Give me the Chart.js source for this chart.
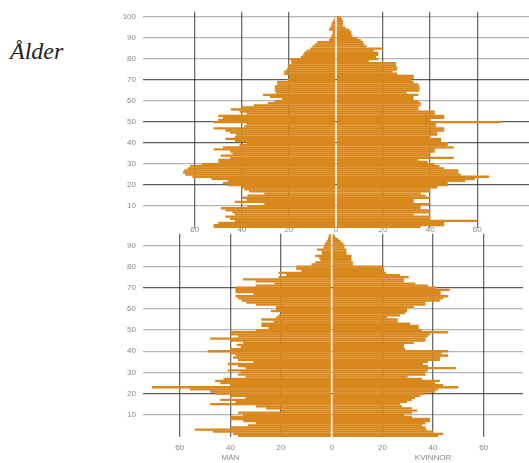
<!DOCTYPE html>
<html lang="sv">
<head>
<meta charset="utf-8">
<script src="https://cdn.jsdelivr.net/npm/chart.js@4.4.1/dist/chart.umd.min.js"></script>
<style>
  html, body { margin: 0; padding: 0; background: #fff; }
  body { width: 529px; height: 463px; position: relative; overflow: hidden; }
  #alder { position: absolute; left: 10px; top: 39px; font-family: 'Liberation Serif', serif; font-style: italic; font-size: 24px; line-height: 25px; color: #222; }
  #top { position: absolute; left: 0; top: 0; }
  #bottom { position: absolute; left: 0; top: 222px; }
</style>
</head>
<body>
<div id="alder">Ålder</div>
<canvas id="top" width="529" height="240"></canvas>
<canvas id="bottom" width="529" height="241"></canvas>
<script>
// Övre pyramiden: ålder 100 -> 0 (värden lästa från bilden)
const maenTopp = [
  0.5, 0.7, 1.4, 1.8, 2, 2.5, 3, 1.5, 1.4, 2, 2.5,
  3, 8, 9, 10, 11, 12.5, 13.5, 14, 15,
  20, 19, 19, 20.5, 20.5, 21, 22, 22, 20, 20,
  20.5, 25, 25, 26, 26, 26, 25.5, 31, 28, 23,
  26, 29, 35, 40, 44.7, 41, 38, 50, 48, 50,
  52, 38, 39, 52, 47, 45, 42.5, 43, 47, 43,
  38, 41, 48, 52, 45, 44, 49, 45, 50, 50,
  57, 62, 63, 64.5, 65, 64, 61, 53, 46, 48,
  46, 40, 39, 37, 30.5, 37.6, 39.7, 38, 43, 30.5,
  37.6, 48.9, 47, 44, 43, 47, 45, 43, 50, 52,
  52
];
const kvinnorTopp = [
  2, 2.5, 3, 3, 3, 4, 5.5, 6.5, 6.5, 7, 9,
  10.5, 11.5, 12, 13, 20, 16, 18, 18, 17,
  18, 14, 25.5, 25.5, 26, 26, 24, 26, 33, 33,
  32, 33, 35, 35.5, 35.5, 35.5, 30, 35, 33, 33,
  35, 36, 36, 35, 35, 42, 42, 46, 46, 40,
  70, 42.5, 42.5, 46, 46, 43, 43, 40, 44.7, 44.7,
  47.5, 47.5, 50, 42, 42, 40, 40, 50, 35, 39,
  42, 44, 46, 52, 52, 53, 65, 59, 55, 47.5,
  47.5, 43, 40, 40, 36, 38, 40, 33, 33, 40,
  36, 36, 40, 40, 33, 40, 40, 60, 46, 46,
  36
];

// Nedre pyramiden: ålder 95 -> 0
const maenBotten = [
  1, 1.3, 1.5, 2, 2.6, 3,
  3.2, 5.8, 4, 3.9, 6.5, 5, 4.5, 6.5, 8,
  14, 14, 12, 21, 18, 21, 35, 30, 22.6, 30,
  38, 38, 38, 31, 38, 37, 35.6, 33.7, 30, 22,
  22, 24, 20, 21, 22, 27.8, 23, 27.8, 27.8, 25,
  30, 40, 40, 37, 48, 40, 35, 37.5, 36, 40,
  49, 40, 38, 39, 37, 31, 41, 37, 34, 41,
  36, 37, 34, 42.7, 46, 44, 40, 71, 56, 48,
  46, 40, 34, 44, 38, 48, 30, 26, 20, 37,
  35, 40, 40, 35, 30, 33, 40, 54, 47, 39,
  37
];
const kvinnorBotten = [
  1, 1.5, 2.6, 3.5, 4.5, 5,
  5, 5.8, 5.8, 5.8, 7.8, 7.8, 7.8, 8.4, 8.4,
  20, 20.7, 20.7, 21.4, 27, 30.4, 28.5, 28.5, 33, 38,
  41.4, 46.6, 43, 43, 46, 44, 42.7, 37, 37, 32.4,
  29.8, 29.8, 29, 27, 22, 26, 26, 31, 34.3, 34.3,
  35.6, 46, 38.8, 38, 37, 37, 32.4, 28.5, 28.5, 29,
  46, 43.4, 46, 42.7, 42.7, 38, 36, 38, 49, 38,
  37, 37, 30, 35.6, 42.7, 40.8, 44, 50, 42, 40.8,
  37, 35, 33, 31.7, 29.8, 27, 27.8, 31.7, 33.7, 31.7,
  28.5, 31.7, 38.8, 38.8, 37, 35.6, 37, 37.5, 40, 44,
  42
];

const xTicks = [-60, -40, -20, 0, 20, 40, 60];
const ORANGE = '#D9881D';
const GAP = 0.35; // vit mittlinje

function aldrar(maxAlder) {
  const a = [];
  for (let i = maxAlder; i >= 0; i--) a.push(String(i));
  return a;
}

function rita(canvasId, opts) {
  const labels = aldrar(opts.maxLabel);
  const top = opts.hogstaAlder;
  const maen = opts.maen.map((v, i) => ({ y: String(top - i), x: [-v, -GAP] }));
  const kvinnor = opts.kvinnor.map((v, i) => ({ y: String(top - i), x: [GAP, v] }));
  const stil = { grouped: false, backgroundColor: ORANGE, borderColor: ORANGE, borderWidth: 0, barPercentage: 1.1, categoryPercentage: 1 };

  return new Chart(document.getElementById(canvasId), {
    type: 'bar',
    data: {
      labels: labels,
      datasets: [
        Object.assign({ label: 'Män', data: maen }, stil),
        Object.assign({ label: 'Kvinnor', data: kvinnor }, stil)
      ]
    },
    options: {
      indexAxis: 'y',
      responsive: false,
      animation: false,
      devicePixelRatio: 1,
      layout: { padding: { top: opts.padTop, left: 0, right: 0, bottom: 0 } },
      plugins: { legend: { display: false }, tooltip: { enabled: false } },
      scales: {
        x: {
          type: 'linear',
          min: opts.xMin,
          max: opts.xMax,
          z: 1,
          border: { display: false },
          grid: {
            drawTicks: false,
            lineWidth: 1.3,
            color: c => (c.tick && c.tick.value !== 0 && xTicks.includes(c.tick.value)) ? 'rgba(45,45,45,0.7)' : 'transparent'
          },
          ticks: {
            stepSize: 20,
            autoSkip: false,
            maxRotation: 0,
            mirror: opts.xMirror,
            padding: opts.xPad,
            color: '#888',
            font: { family: 'Liberation Sans', size: 8 },
            callback: function(value) {
              if (!xTicks.includes(value)) return '';
              if (opts.xTitles && opts.xTitles[value]) return [String(Math.abs(value)), opts.xTitles[value]];
              return String(Math.abs(value));
            }
          },
          afterFit: s => { s.height = opts.xHeight; }
        },
        y: {
          type: 'category',
          offset: true,
          z: 1,
          border: { display: false },
          grid: {
            offset: false,
            drawTicks: false,
            lineWidth: 1.3,
            color: c => {
              const a = Number(labels[c.index]);
              if (a === 0 || a % 10 !== 0 || a > opts.hogstaAlder) return 'transparent';
              return opts.morka.includes(a) ? 'rgba(30,30,30,0.72)' : 'rgba(70,70,70,0.4)';
            }
          },
          ticks: {
            autoSkip: false,
            padding: 7,
            color: '#888',
            font: { family: 'Liberation Sans', size: 8 },
            callback: function(value, index) {
              const a = Number(labels[index]);
              return (a > 0 && a % 10 === 0 && a <= opts.hogstaAlder) ? String(a) : '';
            }
          },
          afterFit: s => { s.width = 143; }
        }
      }
    }
  });
}

rita('top', {
  maen: maenTopp, kvinnor: kvinnorTopp,
  hogstaAlder: 100, maxLabel: 102,
  xMin: -82, xMax: 82,
  padTop: 11, xHeight: 9, xPad: -6, xMirror: true,
  morka: [70, 40, 20, 50]
});

rita('bottom', {
  maen: maenBotten, kvinnor: kvinnorBotten,
  hogstaAlder: 95, maxLabel: 95,
  xMin: -74.5, xMax: 75.5,
  padTop: 2, xHeight: 26, xPad: 6, xMirror: false,
  morka: [70, 20],
  xTitles: { '-40': 'MÄN', '40': 'KVINNOR' }
});
</script>
</body>
</html>
